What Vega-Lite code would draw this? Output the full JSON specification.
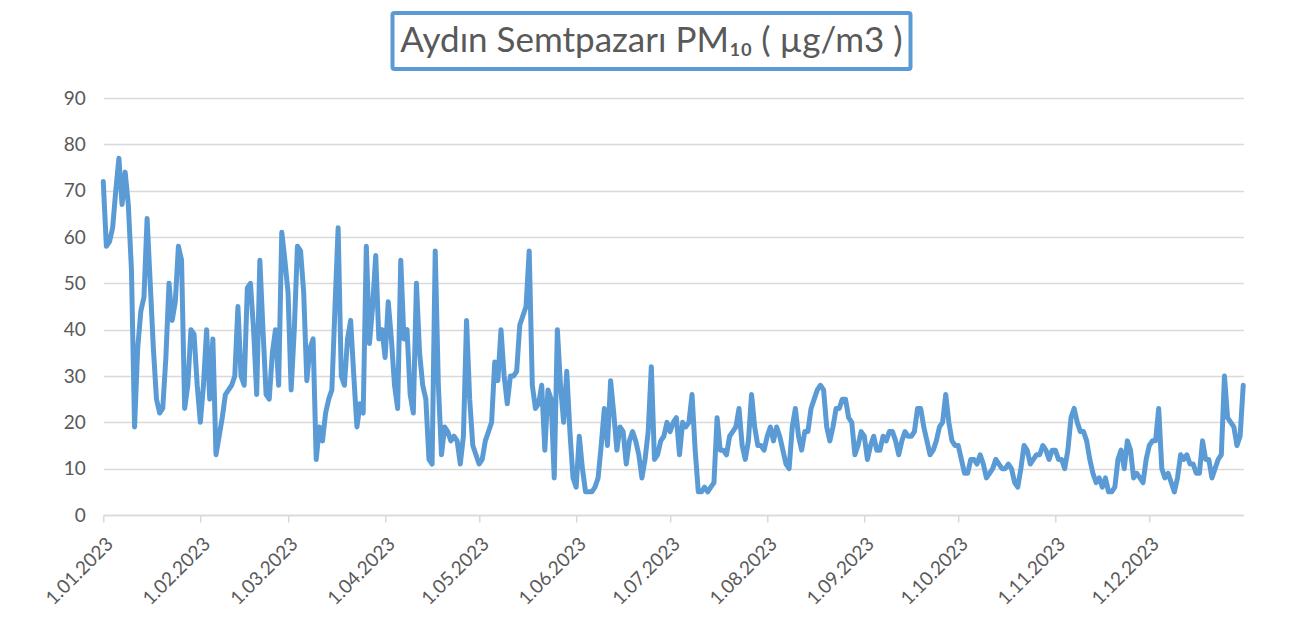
{
"$schema":"https://vega.github.io/schema/vega-lite/v6.json",
"background":"white",
"padding":{"left":42,"top":11,"right":10,"bottom":10},
"spacing":18,
"center":true,
"config":{"font":"Lato"},
"vconcat":[
{
"spacing":0,
"hconcat":[
{
"width":518,"height":56,
"view":{"stroke":"#5b9bd5","strokeWidth":4,"cornerRadius":2},
"data":{"values":[{"t":"Aydın Semtpazarı PM₁₀ ( µg/m3 )"}]},
"mark":{"type":"text","font":"Lato","fontSize":35,"color":"#595959","align":"center","baseline":"middle"},
"encoding":{"text":{"field":"t"}}
},
{
"width":44,"height":56,
"view":{"stroke":null},
"data":{"values":[]},
"mark":{"type":"text"},
"encoding":{}
}
]
},
{
"width":1140,"height":417,
"view":{"stroke":null},
"data":{"values":[
{"d":"2023-01-01","v":72},{"d":"2023-01-02","v":58},{"d":"2023-01-03","v":59},{"d":"2023-01-04","v":62},{"d":"2023-01-05","v":70},{"d":"2023-01-06","v":77},{"d":"2023-01-07","v":67},{"d":"2023-01-08","v":74},{"d":"2023-01-09","v":67},{"d":"2023-01-10","v":53},
{"d":"2023-01-11","v":19},{"d":"2023-01-12","v":36},{"d":"2023-01-13","v":44},{"d":"2023-01-14","v":47},{"d":"2023-01-15","v":64},{"d":"2023-01-16","v":50},{"d":"2023-01-17","v":36},{"d":"2023-01-18","v":25},{"d":"2023-01-19","v":22},{"d":"2023-01-20","v":23},
{"d":"2023-01-21","v":34},{"d":"2023-01-22","v":50},{"d":"2023-01-23","v":42},{"d":"2023-01-24","v":46},{"d":"2023-01-25","v":58},{"d":"2023-01-26","v":55},{"d":"2023-01-27","v":23},{"d":"2023-01-28","v":28},{"d":"2023-01-29","v":40},{"d":"2023-01-30","v":39},{"d":"2023-01-31","v":28},
{"d":"2023-02-01","v":20},{"d":"2023-02-02","v":28},{"d":"2023-02-03","v":40},{"d":"2023-02-04","v":25},{"d":"2023-02-05","v":38},{"d":"2023-02-06","v":13},{"d":"2023-02-07","v":17},{"d":"2023-02-08","v":21},{"d":"2023-02-09","v":26},{"d":"2023-02-10","v":27},
{"d":"2023-02-11","v":28},{"d":"2023-02-12","v":30},{"d":"2023-02-13","v":45},{"d":"2023-02-14","v":30},{"d":"2023-02-15","v":28},{"d":"2023-02-16","v":49},{"d":"2023-02-17","v":50},{"d":"2023-02-18","v":40},{"d":"2023-02-19","v":26},{"d":"2023-02-20","v":55},
{"d":"2023-02-21","v":40},{"d":"2023-02-22","v":26},{"d":"2023-02-23","v":25},{"d":"2023-02-24","v":35},{"d":"2023-02-25","v":40},{"d":"2023-02-26","v":28},{"d":"2023-02-27","v":61},{"d":"2023-02-28","v":55},
{"d":"2023-03-01","v":48},{"d":"2023-03-02","v":27},{"d":"2023-03-03","v":40},{"d":"2023-03-04","v":58},{"d":"2023-03-05","v":57},{"d":"2023-03-06","v":48},{"d":"2023-03-07","v":29},{"d":"2023-03-08","v":36},{"d":"2023-03-09","v":38},{"d":"2023-03-10","v":12},
{"d":"2023-03-11","v":19},{"d":"2023-03-12","v":16},{"d":"2023-03-13","v":22},{"d":"2023-03-14","v":25},{"d":"2023-03-15","v":27},{"d":"2023-03-16","v":45},{"d":"2023-03-17","v":62},{"d":"2023-03-18","v":30},{"d":"2023-03-19","v":28},{"d":"2023-03-20","v":38},
{"d":"2023-03-21","v":42},{"d":"2023-03-22","v":30},{"d":"2023-03-23","v":19},{"d":"2023-03-24","v":24},{"d":"2023-03-25","v":22},{"d":"2023-03-26","v":58},{"d":"2023-03-27","v":37},{"d":"2023-03-28","v":45},{"d":"2023-03-29","v":56},{"d":"2023-03-30","v":38},{"d":"2023-03-31","v":40},
{"d":"2023-04-01","v":34},{"d":"2023-04-02","v":46},{"d":"2023-04-03","v":38},{"d":"2023-04-04","v":28},{"d":"2023-04-05","v":23},{"d":"2023-04-06","v":55},{"d":"2023-04-07","v":38},{"d":"2023-04-08","v":40},{"d":"2023-04-09","v":26},{"d":"2023-04-10","v":22},
{"d":"2023-04-11","v":50},{"d":"2023-04-12","v":35},{"d":"2023-04-13","v":28},{"d":"2023-04-14","v":25},{"d":"2023-04-15","v":12},{"d":"2023-04-16","v":11},{"d":"2023-04-17","v":57},{"d":"2023-04-18","v":28},{"d":"2023-04-19","v":13},{"d":"2023-04-20","v":19},
{"d":"2023-04-21","v":18},{"d":"2023-04-22","v":16},{"d":"2023-04-23","v":17},{"d":"2023-04-24","v":16},{"d":"2023-04-25","v":11},{"d":"2023-04-26","v":17},{"d":"2023-04-27","v":42},{"d":"2023-04-28","v":25},{"d":"2023-04-29","v":15},{"d":"2023-04-30","v":13},
{"d":"2023-05-01","v":11},{"d":"2023-05-02","v":12},{"d":"2023-05-03","v":16},{"d":"2023-05-04","v":18},{"d":"2023-05-05","v":20},{"d":"2023-05-06","v":33},{"d":"2023-05-07","v":29},{"d":"2023-05-08","v":40},{"d":"2023-05-09","v":30},{"d":"2023-05-10","v":24},
{"d":"2023-05-11","v":30},{"d":"2023-05-12","v":30},{"d":"2023-05-13","v":31},{"d":"2023-05-14","v":41},{"d":"2023-05-15","v":43},{"d":"2023-05-16","v":45},{"d":"2023-05-17","v":57},{"d":"2023-05-18","v":28},{"d":"2023-05-19","v":23},{"d":"2023-05-20","v":24},
{"d":"2023-05-21","v":28},{"d":"2023-05-22","v":14},{"d":"2023-05-23","v":27},{"d":"2023-05-24","v":25},{"d":"2023-05-25","v":8},{"d":"2023-05-26","v":40},{"d":"2023-05-27","v":28},{"d":"2023-05-28","v":20},{"d":"2023-05-29","v":31},{"d":"2023-05-30","v":18},{"d":"2023-05-31","v":8},
{"d":"2023-06-01","v":6},{"d":"2023-06-02","v":17},{"d":"2023-06-03","v":10},{"d":"2023-06-04","v":5},{"d":"2023-06-05","v":5},{"d":"2023-06-06","v":5},{"d":"2023-06-07","v":6},{"d":"2023-06-08","v":8},{"d":"2023-06-09","v":15},{"d":"2023-06-10","v":23},
{"d":"2023-06-11","v":15},{"d":"2023-06-12","v":29},{"d":"2023-06-13","v":22},{"d":"2023-06-14","v":14},{"d":"2023-06-15","v":19},{"d":"2023-06-16","v":18},{"d":"2023-06-17","v":11},{"d":"2023-06-18","v":16},{"d":"2023-06-19","v":18},{"d":"2023-06-20","v":16},
{"d":"2023-06-21","v":13},{"d":"2023-06-22","v":8},{"d":"2023-06-23","v":12},{"d":"2023-06-24","v":18},{"d":"2023-06-25","v":32},{"d":"2023-06-26","v":12},{"d":"2023-06-27","v":13},{"d":"2023-06-28","v":16},{"d":"2023-06-29","v":17},{"d":"2023-06-30","v":20},
{"d":"2023-07-01","v":18},{"d":"2023-07-02","v":20},{"d":"2023-07-03","v":21},{"d":"2023-07-04","v":13},{"d":"2023-07-05","v":20},{"d":"2023-07-06","v":19},{"d":"2023-07-07","v":20},{"d":"2023-07-08","v":26},{"d":"2023-07-09","v":14},{"d":"2023-07-10","v":5},
{"d":"2023-07-11","v":5},{"d":"2023-07-12","v":6},{"d":"2023-07-13","v":5},{"d":"2023-07-14","v":6},{"d":"2023-07-15","v":7},{"d":"2023-07-16","v":21},{"d":"2023-07-17","v":14},{"d":"2023-07-18","v":14},{"d":"2023-07-19","v":13},{"d":"2023-07-20","v":17},
{"d":"2023-07-21","v":18},{"d":"2023-07-22","v":19},{"d":"2023-07-23","v":23},{"d":"2023-07-24","v":15},{"d":"2023-07-25","v":12},{"d":"2023-07-26","v":16},{"d":"2023-07-27","v":26},{"d":"2023-07-28","v":19},{"d":"2023-07-29","v":15},{"d":"2023-07-30","v":15},{"d":"2023-07-31","v":14},
{"d":"2023-08-01","v":17},{"d":"2023-08-02","v":19},{"d":"2023-08-03","v":16},{"d":"2023-08-04","v":19},{"d":"2023-08-05","v":17},{"d":"2023-08-06","v":14},{"d":"2023-08-07","v":11},{"d":"2023-08-08","v":10},{"d":"2023-08-09","v":19},{"d":"2023-08-10","v":23},
{"d":"2023-08-11","v":17},{"d":"2023-08-12","v":14},{"d":"2023-08-13","v":18},{"d":"2023-08-14","v":18},{"d":"2023-08-15","v":23},{"d":"2023-08-16","v":25},{"d":"2023-08-17","v":27},{"d":"2023-08-18","v":28},{"d":"2023-08-19","v":27},{"d":"2023-08-20","v":19},
{"d":"2023-08-21","v":16},{"d":"2023-08-22","v":19},{"d":"2023-08-23","v":23},{"d":"2023-08-24","v":23},{"d":"2023-08-25","v":25},{"d":"2023-08-26","v":25},{"d":"2023-08-27","v":21},{"d":"2023-08-28","v":20},{"d":"2023-08-29","v":13},{"d":"2023-08-30","v":15},{"d":"2023-08-31","v":18},
{"d":"2023-09-01","v":17},{"d":"2023-09-02","v":12},{"d":"2023-09-03","v":15},{"d":"2023-09-04","v":17},{"d":"2023-09-05","v":14},{"d":"2023-09-06","v":14},{"d":"2023-09-07","v":17},{"d":"2023-09-08","v":16},{"d":"2023-09-09","v":18},{"d":"2023-09-10","v":18},
{"d":"2023-09-11","v":16},{"d":"2023-09-12","v":13},{"d":"2023-09-13","v":16},{"d":"2023-09-14","v":18},{"d":"2023-09-15","v":17},{"d":"2023-09-16","v":17},{"d":"2023-09-17","v":18},{"d":"2023-09-18","v":23},{"d":"2023-09-19","v":23},{"d":"2023-09-20","v":19},
{"d":"2023-09-21","v":16},{"d":"2023-09-22","v":13},{"d":"2023-09-23","v":14},{"d":"2023-09-24","v":16},{"d":"2023-09-25","v":19},{"d":"2023-09-26","v":20},{"d":"2023-09-27","v":26},{"d":"2023-09-28","v":20},{"d":"2023-09-29","v":16},{"d":"2023-09-30","v":15},
{"d":"2023-10-01","v":15},{"d":"2023-10-02","v":12},{"d":"2023-10-03","v":9},{"d":"2023-10-04","v":9},{"d":"2023-10-05","v":12},{"d":"2023-10-06","v":12},{"d":"2023-10-07","v":11},{"d":"2023-10-08","v":13},{"d":"2023-10-09","v":11},{"d":"2023-10-10","v":8},
{"d":"2023-10-11","v":9},{"d":"2023-10-12","v":10},{"d":"2023-10-13","v":12},{"d":"2023-10-14","v":11},{"d":"2023-10-15","v":10},{"d":"2023-10-16","v":10},{"d":"2023-10-17","v":11},{"d":"2023-10-18","v":10},{"d":"2023-10-19","v":7},{"d":"2023-10-20","v":6},
{"d":"2023-10-21","v":10},{"d":"2023-10-22","v":15},{"d":"2023-10-23","v":14},{"d":"2023-10-24","v":11},{"d":"2023-10-25","v":12},{"d":"2023-10-26","v":13},{"d":"2023-10-27","v":13},{"d":"2023-10-28","v":15},{"d":"2023-10-29","v":14},{"d":"2023-10-30","v":12},{"d":"2023-10-31","v":14},
{"d":"2023-11-01","v":14},{"d":"2023-11-02","v":12},{"d":"2023-11-03","v":12},{"d":"2023-11-04","v":10},{"d":"2023-11-05","v":14},{"d":"2023-11-06","v":21},{"d":"2023-11-07","v":23},{"d":"2023-11-08","v":20},{"d":"2023-11-09","v":18},{"d":"2023-11-10","v":18},
{"d":"2023-11-11","v":16},{"d":"2023-11-12","v":12},{"d":"2023-11-13","v":9},{"d":"2023-11-14","v":7},{"d":"2023-11-15","v":8},{"d":"2023-11-16","v":6},{"d":"2023-11-17","v":8},{"d":"2023-11-18","v":5},{"d":"2023-11-19","v":5},{"d":"2023-11-20","v":6},
{"d":"2023-11-21","v":12},{"d":"2023-11-22","v":14},{"d":"2023-11-23","v":10},{"d":"2023-11-24","v":16},{"d":"2023-11-25","v":14},{"d":"2023-11-26","v":8},{"d":"2023-11-27","v":9},{"d":"2023-11-28","v":8},{"d":"2023-11-29","v":7},{"d":"2023-11-30","v":12},
{"d":"2023-12-01","v":15},{"d":"2023-12-02","v":16},{"d":"2023-12-03","v":16},{"d":"2023-12-04","v":23},{"d":"2023-12-05","v":10},{"d":"2023-12-06","v":8},{"d":"2023-12-07","v":9},{"d":"2023-12-08","v":7},{"d":"2023-12-09","v":5},{"d":"2023-12-10","v":8},
{"d":"2023-12-11","v":13},{"d":"2023-12-12","v":12},{"d":"2023-12-13","v":13},{"d":"2023-12-14","v":11},{"d":"2023-12-15","v":11},{"d":"2023-12-16","v":9},{"d":"2023-12-17","v":9},{"d":"2023-12-18","v":16},{"d":"2023-12-19","v":12},{"d":"2023-12-20","v":12},
{"d":"2023-12-21","v":8},{"d":"2023-12-22","v":10},{"d":"2023-12-23","v":12},{"d":"2023-12-24","v":13},{"d":"2023-12-25","v":30},{"d":"2023-12-26","v":21},{"d":"2023-12-27","v":20},{"d":"2023-12-28","v":19},{"d":"2023-12-29","v":15},{"d":"2023-12-30","v":17},{"d":"2023-12-31","v":28}
]},
"mark":{"type":"line","color":"#5b9bd5","strokeWidth":5,"strokeJoin":"round","strokeCap":"round"},
"encoding":{
"x":{"field":"d","type":"temporal",
"scale":{"type":"utc","domain":[{"year":2023,"month":1,"date":1,"utc":true},{"year":2023,"month":12,"date":31,"utc":true}]},
"axis":{"title":null,"values":[{"year":2023,"month":1,"date":1,"utc":true},{"year":2023,"month":2,"date":1,"utc":true},{"year":2023,"month":3,"date":1,"utc":true},{"year":2023,"month":4,"date":1,"utc":true},{"year":2023,"month":5,"date":1,"utc":true},{"year":2023,"month":6,"date":1,"utc":true},{"year":2023,"month":7,"date":1,"utc":true},{"year":2023,"month":8,"date":1,"utc":true},{"year":2023,"month":9,"date":1,"utc":true},{"year":2023,"month":10,"date":1,"utc":true},{"year":2023,"month":11,"date":1,"utc":true},{"year":2023,"month":12,"date":1,"utc":true}],
"labelExpr":"utcFormat(datum.value, '%-d.%m.%Y')","labelAngle":-45,"labelFont":"Lato","labelFontSize":19,"labelColor":"#595959","labelPadding":12,"labelFlush":false,"labelOverlap":false,"labelBound":false,
"grid":false,"domainColor":"#d9d9d9","domainWidth":1.5,"tickColor":"#d9d9d9","tickWidth":1.5,"tickSize":7}},
"y":{"field":"v","type":"quantitative","scale":{"domain":[0,90],"nice":false},
"axis":{"title":null,"values":[0,10,20,30,40,50,60,70,80,90],"domain":false,"ticks":false,"grid":true,"gridColor":"#d9d9d9","gridWidth":1.5,"labelFont":"Lato","labelFontSize":19,"labelColor":"#595959","labelPadding":18}}
}
}
]
}
